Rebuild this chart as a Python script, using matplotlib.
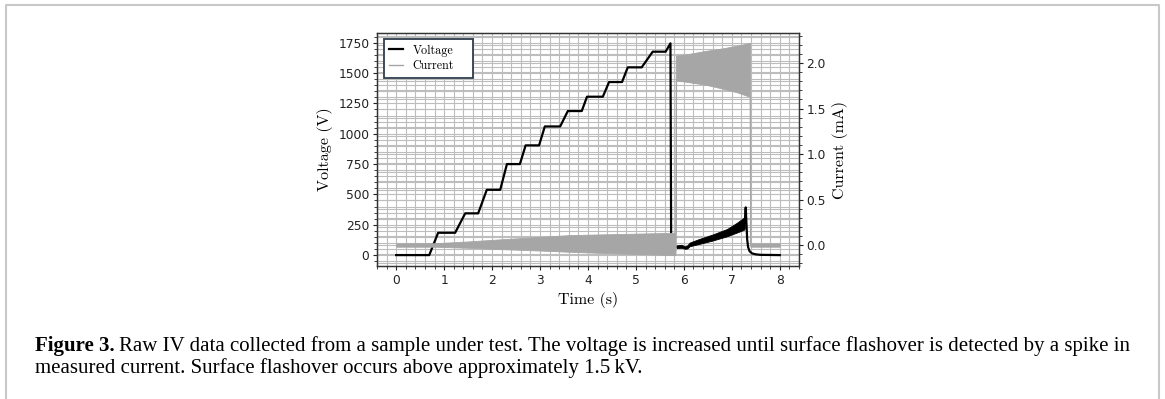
import matplotlib.pyplot as plt
from matplotlib.lines import Line2D
from matplotlib.ticker import MultipleLocator, AutoMinorLocator

# voltage staircase: plateau start / end (s) and level (V)
step_start = [0.00, 0.875, 1.44, 1.89, 2.31, 2.70, 3.10, 3.58, 3.98, 4.44, 4.83, 5.35]
step_end = [0.69, 1.23, 1.71, 2.17, 2.58, 2.98, 3.42, 3.87, 4.31, 4.71, 5.12, 5.62]
step_volt = [0, 184, 344, 538, 750, 904, 1060, 1187, 1305, 1426, 1547, 1676]

# last ramp, peak and collapse at flashover
flash_t = [5.72, 5.735, 5.85]
flash_v = [1745, 60, 68]

# noisy voltage during the discharge (upper / lower edge of the trace)
arc_t = [5.85, 5.95, 6.02, 6.07, 6.12, 6.30, 6.60, 6.90, 7.10, 7.25, 7.27]
arc_hi = [80, 85, 72, 80, 103, 130, 170, 215, 265, 308, 320]
arc_lo = [58, 60, 52, 54, 73, 90, 120, 155, 185, 208, 220]

# spike and decay back to zero
tail_t = [7.27, 7.29, 7.30, 7.32, 7.34, 7.37, 7.42, 7.50, 7.60, 8.00]
tail_v = [270, 393, 300, 130, 65, 32, 14, 6, 2, 0]

# current trace envelope (mA)
cur_t = [0.0, 0.8, 1.5, 2.17, 3.0, 3.63, 4.5, 5.82, 5.83, 5.84, 6.1, 6.47,
         6.8, 7.1, 7.37, 7.38, 7.39, 8.0]
cur_hi = [0.018, 0.02, 0.04, 0.063, 0.09, 0.11, 0.12, 0.135, 2.08, 2.08, 2.10,
          2.135, 2.16, 2.19, 2.22, 2.22, 0.018, 0.018]
cur_lo = [-0.018, -0.018, -0.03, -0.044, -0.06, -0.074, -0.09, -0.11, -0.05,
          1.81, 1.79, 1.76, 1.72, 1.68, 1.63, 0.0, -0.018, -0.018]

GRAY = "#a6a6a6"
GRID = "#bdbdbd"

volt_t, volt_v = [], []
for t0, t1, v in zip(step_start, step_end, step_volt):
    volt_t += [t0, t1]
    volt_v += [v, v]
volt_t += flash_t
volt_v += flash_v

fig = plt.figure(figsize=(11.65, 3.99), dpi=100)
ax = fig.add_axes([0.3236, 0.3333, 0.3622, 0.5840])
ax2 = ax.twinx()

ax.plot(volt_t, volt_v, color="k", lw=1.6, solid_joinstyle="round", zorder=2)
ax.fill_between(arc_t, arc_lo, arc_hi, color="k", lw=0.6, zorder=2)
ax.plot(tail_t, tail_v, color="k", lw=1.6, zorder=2)

ax2.fill_between(cur_t, cur_lo, cur_hi, color=GRAY, lw=0.6)

ax.set_xlim(-0.4, 8.4)
ax.set_ylim(-90, 1830)
ax2.set_ylim(-0.23, 2.33)

ax.xaxis.set_major_locator(MultipleLocator(1))
ax.xaxis.set_minor_locator(MultipleLocator(0.2))
ax.yaxis.set_major_locator(MultipleLocator(250))
ax.yaxis.set_minor_locator(AutoMinorLocator())
ax2.yaxis.set_major_locator(MultipleLocator(0.5))
ax2.yaxis.set_minor_locator(AutoMinorLocator())

# all grid lines live in the bottom axes so that traces sit on top of them
ax.set_axisbelow(True)
ax.grid(True, which="both", color=GRID, lw=0.8)
for y in list(ax2.yaxis.get_majorticklocs()) + list(ax2.yaxis.get_minorticklocs()):
    ax.plot([0, 1], [y, y], transform=ax2.get_yaxis_transform(), color=GRID,
            lw=0.8, zorder=0.5)

for a in (ax, ax2):
    a.tick_params(which="major", length=3, pad=2.5, labelsize=8.8, colors="#222222")
    a.tick_params(which="minor", length=2, color="#222222")
    for s in a.spines.values():
        s.set_color("#333333")
        s.set_linewidth(0.9)

lab = dict(family="cmr10", fontsize=11.5)
ax.set_xlabel("Time (s)", **lab)
ax.set_ylabel("Voltage (V)", **lab)
ax2.set_ylabel("Current (mA)", **lab)

handles = [Line2D([], [], color="k", lw=1.6), Line2D([], [], color=GRAY, lw=1)]
leg = ax2.legend(handles, ["Voltage", "Current"], loc="upper left",
                 bbox_to_anchor=(0.0166, 0.974, 0.211, 0), mode="expand",
                 prop={"family": "cmr10", "size": 8.7}, fancybox=False,
                 framealpha=1, handlelength=1.1, handletextpad=0.8,
                 labelspacing=0.3, borderpad=0.45, borderaxespad=0)
leg.get_frame().set_edgecolor("#2f3e4e")
leg.get_frame().set_linewidth(1.3)

# caption
cap = dict(family=["Liberation Serif", "DejaVu Serif"], fontsize=15)
t1 = fig.text(35 / 1165, 1 - 351 / 399, "Figure 3.", weight="bold", va="baseline", **cap)
ax2.annotate("Raw IV data collected from a sample under test. The voltage is increased "
             "until surface flashover is detected by a spike in",
             xy=(1, 0), xycoords=t1, xytext=(3.5, 0), textcoords="offset points",
             va="bottom", ha="left", annotation_clip=False, **cap)
fig.text(35 / 1165, 1 - 373 / 399,
         "measured current. Surface flashover occurs above approximately 1.5\u2009kV.",
         va="baseline", **cap)

# page frame
fig.add_artist(Line2D([6 / 1165, 6 / 1165, 1159 / 1165, 1159 / 1165],
                      [0, 1 - 4.5 / 399, 1 - 4.5 / 399, 0],
                      transform=fig.transFigure, color="#c8c8c8", lw=1.5))

fig.savefig("out.png", dpi=100)
